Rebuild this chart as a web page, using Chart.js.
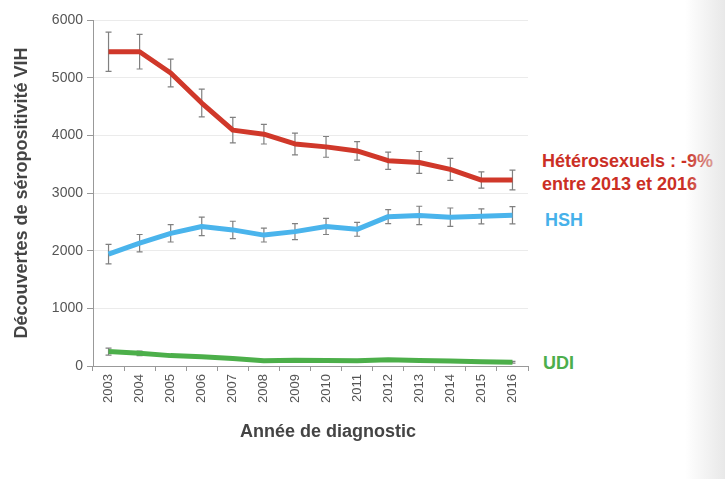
<!DOCTYPE html>
<html>
<head>
<meta charset="utf-8">
<script src="https://cdn.jsdelivr.net/npm/chart.js@4/dist/chart.umd.min.js"></script>
<style>
    body { margin: 0; background: #fff; font-family: "Liberation Sans", Arial, sans-serif; }
    #wrap { position: relative; width: 725px; height: 479px; overflow: hidden; }
    #box { position: absolute; left: 0; top: 0; width: 540px; height: 479px; }
    .note { position: absolute; font-weight: bold; font-size: 18px; line-height: 23px; }
    #shade { position: absolute; right: 0; top: 0; width: 40px; height: 479px;
             background: linear-gradient(to right, rgba(228,228,228,0), rgba(228,228,228,0.85)); }
</style>
</head>
<body>
<div id="wrap">
    <div id="box"><canvas id="myChart"></canvas></div>
    <div class="note" style="left:542px; top:150px; color:#cb2f25;">Hétérosexuels : -9%<br>entre 2013 et 2016</div>
    <div class="note" style="left:545px; top:209px; color:#46b1ea;">HSH</div>
    <div class="note" style="left:543px; top:352px; color:#4cae4c;">UDI</div>
    <div class="note" style="left:240px; top:420px; color:#444;">Année de diagnostic</div>
    <div id="shade"></div>
</div>
<script>
// ----- DATA -----
const annees = ['2003', '2004', '2005', '2006', '2007', '2008', '2009', '2010', '2011', '2012', '2013', '2014', '2015', '2016'];
const hetero = [5450, 5450, 5080, 4560, 4090, 4020, 3850, 3800, 3730, 3560, 3530, 3410, 3225, 3225];
const heteroErr = [340, 300, 240, 240, 220, 170, 190, 180, 160, 150, 190, 190, 140, 170];
const hsh = [1940, 2130, 2300, 2420, 2360, 2270, 2330, 2420, 2370, 2590, 2610, 2580, 2595, 2615];
const hshErr = [170, 150, 150, 160, 150, 120, 140, 140, 120, 120, 160, 160, 130, 150];
const udi = [250, 220, 180, 160, 130, 90, 100, 95, 90, 110, 95, 85, 75, 65];
const udiErr = [60, 40, 20, 20, 15, 15, 15, 15, 15, 15, 15, 15, 15, 15];
const yTicks = [0, 1000, 2000, 3000, 4000, 5000, 6000];

// barres d'erreur, dessinées sous les lignes
const errorBars = {
    id: 'errorBars',
    beforeDatasetsDraw(chart) {
        const ctx = chart.ctx;
        const x = chart.scales.x;
        const y = chart.scales.y;
        ctx.save();
        ctx.strokeStyle = '#808080';
        ctx.lineWidth = 1.2;
        chart.data.datasets.forEach(ds => {
            ds.data.forEach((v, i) => {
                const px = x.getPixelForValue(i);
                const top = y.getPixelForValue(v + ds.err[i]);
                const bot = y.getPixelForValue(v - ds.err[i]);
                ctx.beginPath();
                ctx.moveTo(px, top); ctx.lineTo(px, bot);
                ctx.moveTo(px - 3, top); ctx.lineTo(px + 3, top);
                ctx.moveTo(px - 3, bot); ctx.lineTo(px + 3, bot);
                ctx.stroke();
            });
        });
        ctx.restore();
    }
};

const ctx = document.getElementById('myChart').getContext('2d');

new Chart(ctx, {
    type: 'line',
    data: {
        labels: annees,
        datasets: [
            { label: 'Hétérosexuels', data: hetero, err: heteroErr, borderColor: '#d0382a' },
            { label: 'HSH', data: hsh, err: hshErr, borderColor: '#4ab4ec' },
            { label: 'UDI', data: udi, err: udiErr, borderColor: '#4caf4a' }
        ].map(d => Object.assign(d, { borderWidth: 5, pointRadius: 0, tension: 0, borderJoinStyle: 'round', fill: false }))
    },
    options: {
        responsive: true,
        maintainAspectRatio: false,
        animation: false,
        layout: { padding: { left: 0, right: 12, top: 20, bottom: 0 } },
        plugins: { legend: { display: false }, tooltip: { enabled: false } },
        scales: {
            x: {
                offset: true,
                grid: { display: true, drawOnChartArea: false, offset: true, tickLength: 5, color: '#999' },
                border: { color: '#999' },
                ticks: { color: '#555', font: { family: 'Liberation Sans', size: 13 }, minRotation: 90, maxRotation: 90, padding: 3 },
                afterFit(scale) { scale.height = 113; }
            },
            y: {
                min: 0,
                max: 6000,
                afterBuildTicks(scale) { scale.ticks = yTicks.map(v => ({ value: v })); },
                grid: { color: '#ebebeb', tickLength: 6, tickColor: '#999' },
                border: { color: '#999' },
                ticks: { color: '#555', font: { family: 'Liberation Sans', size: 14 }, padding: 4,
                         callback: v => String(v) },
                title: { display: true, text: 'Découvertes de séropositivité VIH', color: '#444',
                         font: { family: 'Liberation Sans', size: 18, weight: 'bold' }, padding: { top: 11, bottom: 0 } },
                afterFit(scale) { scale.width = 93; }
            }
        }
    },
    plugins: [errorBars]
});
</script>
</body>
</html>
